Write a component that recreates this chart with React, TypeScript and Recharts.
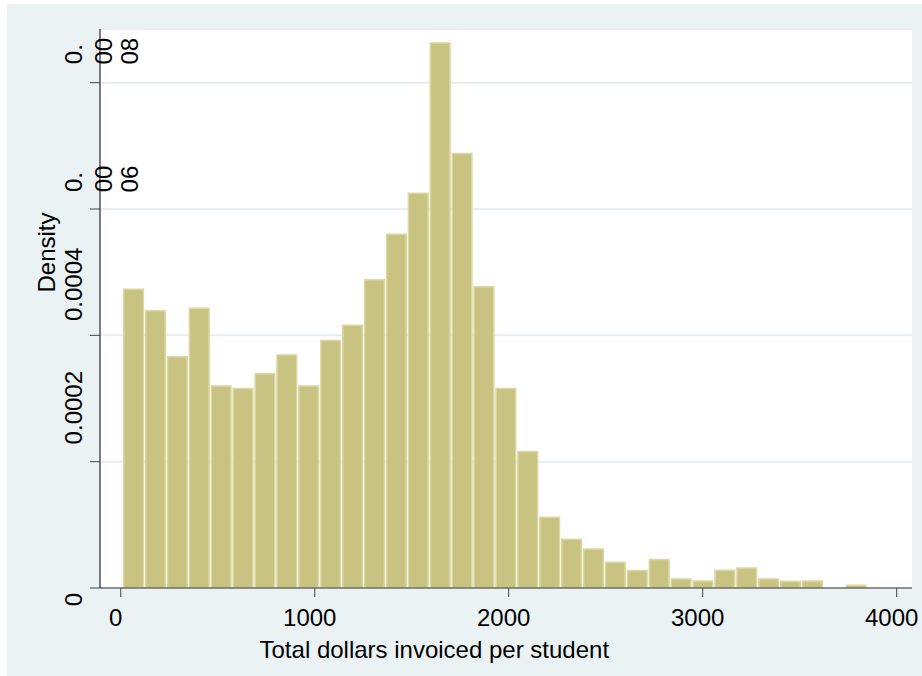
import { BarChart, Bar, XAxis, YAxis, CartesianGrid, Label } from 'recharts';

// histogram bins (bin centre, dollars) and their densities
const binCenters = [
  66.5, 179.4, 292.3, 405.2, 518.1, 630.9, 743.9, 856.8, 969.7, 1082.6,
  1195.5, 1308.4, 1421.3, 1534.2, 1647.1, 1759.9, 1872.9, 1985.8, 2098.7, 2211.6,
  2324.5, 2437.4, 2550.3, 2663.2, 2776.1, 2888.9, 3001.9, 3114.8, 3227.7, 3340.6,
  3453.5, 3566.4, 3679.3, 3792.2,
];
const densities = [
  0.000473, 0.000439, 0.000366, 0.000443, 0.00032, 0.000316, 0.000339, 0.000369, 0.00032, 0.000392,
  0.000416, 0.000488, 0.00056, 0.000625, 0.000863, 0.000688, 0.000477, 0.000316, 0.000216, 0.000112,
  0.0000772, 0.0000618, 0.0000407, 0.0000276, 0.000045, 0.0000143, 0.0000109, 0.000028, 0.0000317, 0.0000143,
  0.0000106, 0.0000111, 0, 0.0000043,
];
const BIN_WIDTH = 112.9;

const xTicks = [0, 1000, 2000, 3000, 4000];
const yTicks = [0, 0.0002, 0.0004, 0.0006, 0.0008];
const yTickLabels = ['0', '0.0002', '0.0004', '0.0006', '0.0008'];

const X_DOMAIN: [number, number] = [-107, 4079];
const Y_DOMAIN: [number, number] = [0, 0.000885];

const W = 922;
const H = 676;
const PLOT_LEFT = 100;
const PLOT_RIGHT = 912;
const barPx = (BIN_WIDTH * (PLOT_RIGHT - PLOT_LEFT)) / (X_DOMAIN[1] - X_DOMAIN[0]);

const FONT = "Arial, 'Liberation Sans', Helvetica, sans-serif";
const FS = 24;

const data = binCenters.map((x, i) => ({ x, density: densities[i] }));

// vertical offsets of the (oddly placed) y labels, and which ones wrap
const yShift = [11.5, -54, -51, -28.5, -30];
const wrapped = [false, false, false, true, true];

function YTick(props: any) {
  const { x, y, index } = props;
  const label = yTickLabels[index] ?? '';
  const bx = x - 6;
  const cy = y + yShift[index];
  if (!wrapped[index]) {
    return (
      <text x={bx} y={cy} transform={`rotate(-90, ${bx}, ${cy})`} textAnchor="middle"
        fontFamily={FONT} fontSize={FS} fill="#000">{label}</text>
    );
  }
  const pieces = [label.slice(0, 2), label.slice(2, 4), label.slice(4)];
  const px = [bx, bx + 29.7, bx + 56.3];
  const py = [cy + 1.5, cy - 1.5, cy - 1.5];
  return (
    <g>
      {pieces.map((p, i) => (
        <text key={i} x={px[i]} y={py[i]} transform={`rotate(-90, ${px[i]}, ${py[i]})`} textAnchor="middle"
          fontFamily={FONT} fontSize={FS} fill="#000">{p}</text>
      ))}
    </g>
  );
}

function XTick(props: any) {
  const { x, payload } = props;
  return (
    <text x={x - 5} y={626} textAnchor="middle" fontFamily={FONT} fontSize={FS} fill="#000">
      {payload.value}
    </text>
  );
}

export default function App() {
  return (
    <div style={{ position: 'absolute', left: 0, top: 0, width: W, height: H }}>
      <div style={{ position: 'absolute', left: 7, top: 4, width: W - 7, height: H - 4, background: '#eaf2f3' }} />
      <div style={{ position: 'absolute', left: 0, top: 0 }}>
        <BarChart width={W} height={H} data={data} margin={{ top: 29, right: W - PLOT_RIGHT, left: 0, bottom: 0 }}
          barCategoryGap={0} barGap={0}>
          <CartesianGrid vertical={false} fill="#ffffff" stroke="#e6eef1" strokeWidth={2} />
          <XAxis dataKey="x" type="number" domain={X_DOMAIN} ticks={xTicks} interval={0} allowDataOverflow
            height={88} tickSize={9} tickLine={{ stroke: '#444' }} axisLine={{ stroke: '#333' }}
            tick={(p: any) => <XTick {...p} />}>
            <Label content={(p: any) => (
              <text x={p.viewBox.x + 334.3} y={p.viewBox.y + 69.5} textAnchor="middle"
                fontFamily={FONT} fontSize={FS} fill="#000">Total dollars invoiced per student</text>
            )} />
          </XAxis>
          <YAxis type="number" domain={Y_DOMAIN} ticks={yTicks} interval={0} allowDataOverflow width={PLOT_LEFT}
            tickSize={10} tickLine={{ stroke: '#444' }} axisLine={{ stroke: '#000' }}
            tick={(p: any) => <YTick {...p} />}>
            <Label content={(p: any) => {
              const bx = 55;
              const cy = p.viewBox.y + 223.5;
              return (
                <text x={bx} y={cy} transform={`rotate(-90, ${bx}, ${cy})`} textAnchor="middle"
                  fontFamily={FONT} fontSize={FS} fill="#000">Density</text>
              );
            }} />
          </YAxis>
          <Bar dataKey="density" fill="#c9c381" stroke="#dcd8a3" strokeWidth={1.5} barSize={barPx}
            isAnimationActive={false} />
        </BarChart>
      </div>
    </div>
  );
}
